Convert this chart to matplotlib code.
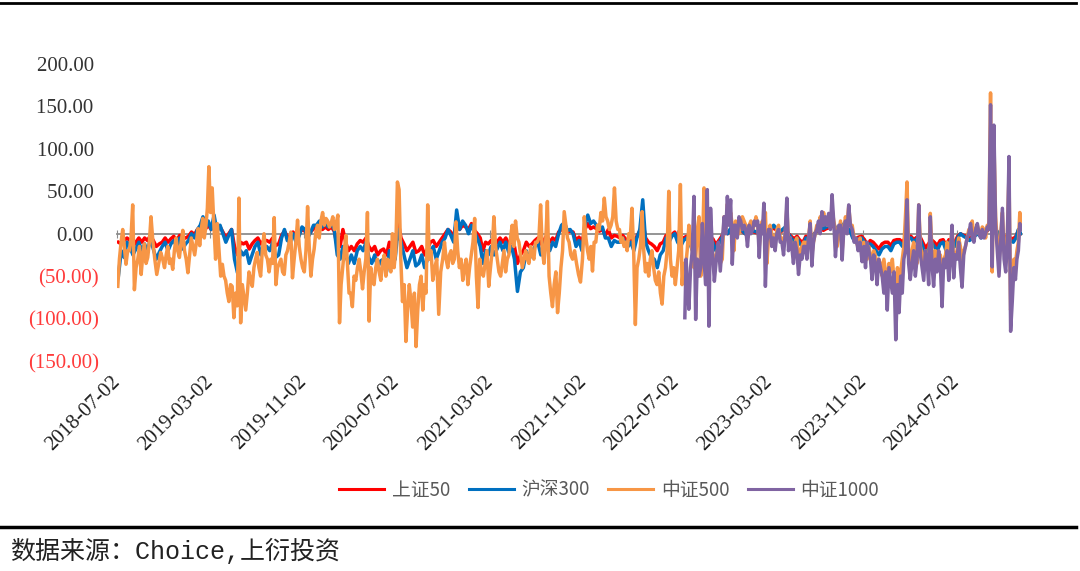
import numpy as np
import pandas as pd
import matplotlib
matplotlib.use("Agg")
import matplotlib.pyplot as plt
import matplotlib.dates as mdates
from matplotlib.lines import Line2D

# ---------------- data (values read per calendar month, 2018-07 .. 2024-12) ----------------
START = "2018-07-02"
END = "2024-12-20"
IM_START = "2022-07-22"

sz50 = [
    [-10, -12, -8, -5], [-8, -15, -10, -5], [-10, -5, -8, -2], [-8, -15, -12, -10], [-5, -10, -6, -3], [-8, -2, -6, -5],
    [-3, 2, -1, 5], [8, 12, 6, 10], [5, 10, 4, 8], [2, -5, 0, 5], [-15, -25, -10, -12], [-10, -18, -12, -8],
    [-5, -12, -8, -8], [-10, -5, -14, -12], [-2, 3, -3, -5], [2, -5, 0, 5], [3, -2, 2, 6], [6, 10, 5, 8],
    [5, 8, 3, -15], [-15, 5, -10, -20], [-15, -20, -12, -8], [-10, -5, -15, -20], [-15, -25, -20, -18], [-25, -10, -18, -15],
    [15, -5, -12, -20], [-15, -10, -22, -20], [-15, -25, -18, -10], [-8, -15, -10, -5], [0, 5, 2, -5], [15, 5, 10, 8],
    [5, 12, 4, 0], [-5, -20, -10, -12], [-8, -15, -10, -5], [-10, -5, -12, -8], [-15, -35, -25, -20], [-10, -15, -12, -8],
    [-5, -12, -8, -2], [-10, -5, -8, 2], [5, 8, 2, 3], [2, -8, -4, -10], [5, 12, 6, 8], [6, 3, 5, -2],
    [5, -5, -2, -3], [-5, -2, -6, -8], [-5, -10, -3, 3], [15, -5, -10, -12], [-15, -20, -12, -10], [-2, -5, -1, 2],
    [-6, -10, -5, -3], [-6, -13, -8, -5], [-10, -3, -12, -8], [-6, -13, -8, -3], [4, 0, 5, 6], [4, 7, 3, 0],
    [4, 6, 2, 1], [0, 4, -1, -3], [4, 7, 4, 1], [4, 6, 0, -3], [-6, -3, -8, -10], [-3, -6, -2, 0],
    [4, 7, 4, 6], [7, 10, 6, 4], [6, 9, 4, 4], [-3, -6, -4, -3], [-7, -14, -8, -10], [-14, -18, -12, -10],
    [-10, -14, -8, -7], [-7, -10, -5, -3], [-3, -7, -4, -3], [-10, -17, -12, -7], [-10, -14, -8, -7], [-14, -7, -11, -10],
    [-3, 0, -2, -3], [-5, -3, -1, 0], [-3, 0, 3, 10], [10, 4, 0, -6], [-3, -10, -5, -6], [-3, 4, 0],
]

hs300 = [
    [-50, -20, -28, -10], [-15, -25, -18, -10], [-20, -12, -22, -5], [-18, -30, -22, -15], [-10, -20, -12, -8], [-15, -5, -18, -12],
    [-8, 0, -5, 5], [10, 20, 8, 15], [5, 22, 2, 10], [0, -10, -2, 5], [-30, -46, -20, -25], [-20, -35, -25, -15],
    [-10, -25, -18, -15], [-20, -10, -28, -25], [-5, 5, -8, -10], [0, -10, -3, 8], [5, -5, 2, 10], [10, 15, 8, 12],
    [8, 12, 5, -25], [-30, -15, -25, -35], [-25, -35, -20, -15], [-20, -10, -28, -35], [-25, -40, -32, -30], [-45, -20, -35, -30],
    [5, -10, -25, -40], [-30, -20, -38, -35], [-25, -40, -30, -20], [-15, -30, -20, -10], [-5, 5, -2, -10], [28, 5, 15, 10],
    [0, 10, 2, -5], [-15, -35, -20, -25], [-15, -25, -18, -10], [-20, -10, -22, -15], [-30, -68, -45, -40], [-20, -30, -22, -15],
    [-10, -25, -15, -5], [-20, -10, -15, 0], [10, 13, 4, 5], [0, -15, -8, -20], [10, 22, 12, 15], [10, 5, 8, -5],
    [-5, -15, -8, -10], [-10, -5, -12, -15], [-10, -20, -5, 5], [40, -10, -20, -28], [-30, -40, -25, -20], [-5, -10, -3, 0],
    [-10, -15, -8, -5], [-10, -20, -12, -8], [-15, -5, -18, -12], [-10, -20, -12, -5], [5, 0, 6, 8], [5, 10, 4, 0],
    [5, 8, 3, 2], [0, 5, -2, -5], [5, 10, 6, 2], [5, 8, 0, -5], [-10, -5, -12, -15], [-5, -10, -4, 0],
    [5, 10, 6, 8], [10, 14, 8, 5], [8, 12, 6, 5], [-5, -10, -6, -5], [-10, -20, -12, -15], [-20, -25, -18, -15],
    [-15, -20, -12, -10], [-10, -15, -8, -5], [-5, -10, -6, -5], [-15, -25, -18, -10], [-15, -20, -12, -10], [-20, -10, -16, -15],
    [-5, 0, -3, -5], [-8, -5, -2, 0], [-5, 0, 4, 15], [15, 5, 0, -10], [-5, -15, -8, -10], [-5, 5, 0],
]

zz500 = [
    [-62, -30, -10, 5, -15, -36, -20], [-20, -5, 34, -66, -40, -30, -15], [-48, -25, -12, -35, -28, -10, 20],
    [-8, -30, -48, -35, -22, -30], [-40, -25, -15, -35, -30, -42, -20], [-5, -20, -28, -10, 4, -20, -30],
    [-46, -25, -5, -15, -25, -10, 6], [-14, 5, 18, -5, 8, 30, 79], [25, 54, 10, -30, 12, -20, -50],
    [-36, -50, -55, -70, -80, -60, -62], [-99, -70, -85, 42, -105, -60, -75], [-90, -70, -45, -55, -62, -40, -30],
    [-22, -40, -50, -20, 0, -25, -30], [-45, -30, -35, 19, -60, -40, -35], [-30, -45, -48, -25, -20, -10, 2],
    [-52, -30, -10, 16, -15, -30, -40], [-45, -20, 32, -15, -50, -30, -18], [2, 10, -5, 15, 25, 10, 18],
    [15, 8, 12, 20, 5, 12, 22], [-105, -60, -40, -20, -2, -35, -70], [-70, -86, -50, -55, -40, -30, -45],
    [-65, -45, -30, 25, -103, -40, -55], [-60, -40, -30, -45, -55, -35, -25], [-50, -30, -35, -45, 0, -40, -20],
    [61, 52, -30, -80, -60, -127, -90], [-60, -80, -110, -70, -133, -90, -60], [-50, -90, -60, -70, 34, -30, -20],
    [-55, -40, -30, -95, -45, -30], [-10, -30, -40, -25, -20, -35, -30], [14, -20, -40, -30, -55, -40, -30],
    [-60, -40, -25, -10, 18, -50, -87], [-30, -45, -50, -35, -20, -62], [-40, -20, 20, -15, -30, -45, -50],
    [-35, -20, -45, -30, -25, -5, 10], [-15, 15, -5, -10, -25, -40, -30], [-20, -30, -35, -15, -25, -30, -10],
    [-10, -5, 34, -20, -35, -10, 38], [-50, -70, -86, -60, -45, -93, -70], [-40, -20, 26, 10, -5, -10, -25],
    [-30, -20, -35, -48, -57, -30], [20, -5, -20, -30, -15, -44, -10], [-10, 10, 5, 25, 15, 42, 20],
    [15, 5, 10, 20, 54, 15, 5], [5, -10, -5, -15, -10, -20, 0], [-5, 30, -20, -107, -40, -30, -15],
    [26, -20, -45, -35, -50, -30, -20], [-40, -55, -60, -45, -70, -83, -50], [-40, -20, 50, -30, -50, -40, -60],
    [-40, -20, 58, -60, -35, -40, -20], [10, -10, -20, -40, -30, 5, 20], [-50, -20, 54, -10, -60, -25, 10],
    [-20, -40, -25, -15, -35, -30], [20, 5, 35, 15, 25, 10, -20], [15, 5, 0, 10, 20, 15, 10],
    [-5, 10, 15, 5, 10, 20, 12], [-15, 5, 15, 0, 25, -35, -5], [10, 0, -5, -10, 5, 10, -5],
    [-5, -15, 0, 30, -10, -5, -15], [-25, -10, -5, -30, -20, -15, -10], [-10, -20, -5, 15, -25, -10, 0],
    [10, 5, 20, 10, 25, 15, 10], [20, 10, 30, 15, 5, -15, 0], [15, -20, 5, 20, 10, 33, 10],
    [10, -5, -10, -15, -5, -25], [-10, -20, -30, -15, -25, -40, -20], [-25, -40, -30, -35, -50, -30, -45],
    [-60, -35, -45, -30, -55, -80, -40], [-60, -45, -30, -15, 20, 61, -20], [-35, -20, -10, -25, -35, 34, -15],
    [-25, -35, -20, -30, -40, 24, -20], [-40, -20, -30, -35, -25, -55, -30], [-25, -10, -35, -20, 8, -35, -25],
    [-20, -5, -15, -40, -20, -15, -5], [5, 0, 15, -5, 5, 10, 0], [0, 8, 5, -5, 10, 5, 166],
    [-45, 110, 20, -10, -35, 0, 25], [-20, -30, 0, 70, -90, -55, -30], [-35, -20, -10, 25, 10],
]

zz1000 = [  # from 2022-07 (listing on 2022-07-22)
    [-99, -30, -60], [-89, -40, -20, 44, -101, -30, -50], [-40, 12, -30, -60, 52, -109, 30],
    [-20, -56, -30, -10, -44, -10], [20, 0, 44, 10, 40, -36, 10], [10, -5, 20, 15, 5, 10, 5],
    [-15, 10, 0, 5, 15, 10, 15], [-28, 10, 0, 36, -62, -10, 5], [5, -15, -5, -20, 0, 5, -10],
    [-10, -25, 0, 42, -20, -5, -15], [-35, -10, -20, -48, -25, -30, -15], [-15, -30, -5, 12, -38, -10, 0],
    [5, 15, 0, 26, 10, 20, 10], [24, 5, 46, 14, -27, 0, 10], [10, -31, 5, 15, 0, 34, 10],
    [5, -10, -5, -20, -10, -33], [-15, -40, -10, -20, -30, -54, -25], [-35, -60, -30, -40, -50, -70, -45],
    [-90, -40, -55, -70, -45, -125, -60], [-93, -50, -70, -30, -20, 40, -35], [-54, -35, -20, -50, -30, 34, -25],
    [-40, -55, -20, -30, -60, 20, -35], [-62, -30, -45, -20, -40, -86, -30], [-40, -20, -55, -30, 10, -52, -25],
    [-30, -10, -40, -63, -25, -15, -5], [0, 12, -5, -10, 5, 12, 0], [-5, 5, -5, 0, 8, 5, 152],
    [-39, 128, 10, -20, -50, -10, 30], [-30, -45, -10, 91, -115, -80, -40], [-54, -30, -20, 12, 5],
]

series_names = ["上证50", "沪深300", "中证500", "中证1000"]
series_colors = ["#FF0000", "#0070C0", "#F79646", "#8064A2"]
yticks = [-150, -100, -50, 0, 50, 100, 150, 200]

# ---------------- helpers ----------------
month_starts = list(pd.date_range("2018-07-01", "2024-12-01", freq="MS"))


def place(month_lists, first_idx, first_start):
    xs, ys = [], []
    for k, vals in enumerate(month_lists):
        i = first_idx + k
        s = pd.Timestamp(first_start) if k == 0 else month_starts[i]
        e = month_starts[i + 1] if i + 1 < len(month_starts) else pd.Timestamp(END)
        n = len(vals)
        for j, v in enumerate(vals):
            xs.append(s + (e - s) * ((j + 0.5) / n))
            ys.append(v)
    return mdates.date2num(xs), np.array(ys, dtype=float)


data = [
    place(sz50, 0, START),
    place(hs300, 0, START),
    place(zz500, 0, START),
    place(zz1000, month_starts.index(pd.Timestamp("2022-07-01")), IM_START),
]

# ---------------- figure ----------------
fig = plt.figure(figsize=(10.8, 5.71), dpi=100)
ax = fig.add_axes([0.1083, 0.3678, 0.838, 0.520])

for (x, y), name, c in zip(data, series_names, series_colors):
    ax.plot(x, y, color=c, lw=2.5, label=name, zorder=3, solid_joinstyle="round")

ax.set_xlim(mdates.date2num(pd.Timestamp(START)), mdates.date2num(pd.Timestamp(END)))
ax.set_ylim(-150, 200)

for s in ["top", "right", "left"]:
    ax.spines[s].set_visible(False)
ax.spines["bottom"].set_position(("data", 0))
ax.spines["bottom"].set_color("#8C8C8C")
ax.spines["bottom"].set_linewidth(1.3)
ax.spines["bottom"].set_zorder(2)

tick_dates = [pd.Timestamp(START) + pd.DateOffset(months=8 * i) for i in range(10)]
tick_nums = mdates.date2num(tick_dates)
tick_labels = [d.strftime("%Y-%m-%d") for d in tick_dates]
ax.set_xticks(tick_nums)
ax.tick_params(axis="x", direction="inout", length=6, color="#8C8C8C", labelbottom=False)

sec = ax.secondary_xaxis(0.0)
sec.set_xticks(tick_nums, labels=tick_labels)
sec.spines["bottom"].set_visible(False)
sec.tick_params(length=0, pad=13)
for lab in sec.get_xticklabels():
    lab.set_family("Liberation Serif")
    lab.set_fontsize(15)
    lab.set_color("#222222")
    lab.set_rotation(45)
    lab.set_rotation_mode("anchor")
    lab.set_ha("right")
    lab.set_va("center")

ylabels = [f"({abs(v):.2f})" if v < 0 else f"{v:.2f} " for v in yticks]
ax.set_yticks(yticks, labels=ylabels)
ax.tick_params(axis="y", length=0, pad=13)
for v, lab in zip(yticks, ax.get_yticklabels()):
    lab.set_family("Liberation Serif")
    lab.set_fontsize(15)
    lab.set_color("#FF3B3B" if v < 0 else "#333333")

handles = [Line2D([0], [0], color=c, lw=2.2) for c in series_colors]
fig.legend(handles, series_names, loc="center", bbox_to_anchor=(0.564, 0.142), ncol=4,
           frameon=False, prop={"family": "Noto Sans CJK SC", "size": 13.5},
           handlelength=2.4, handletextpad=0.4, columnspacing=1.0, labelcolor="#595959")

fig.add_artist(Line2D([0, 0.996], [0.9947, 0.9947], transform=fig.transFigure, color="black", lw=2))
fig.add_artist(Line2D([0, 0.996], [0.0771, 0.0771], transform=fig.transFigure, color="black", lw=2.5))

fig.text(10 / 1080, 1 - 551 / 571, "数据来源：Choice,上衍投资",
         family=["Liberation Mono", "Noto Sans CJK SC"], fontsize=18, va="center", color="#222222")

fig.savefig("out.png", dpi=100)
